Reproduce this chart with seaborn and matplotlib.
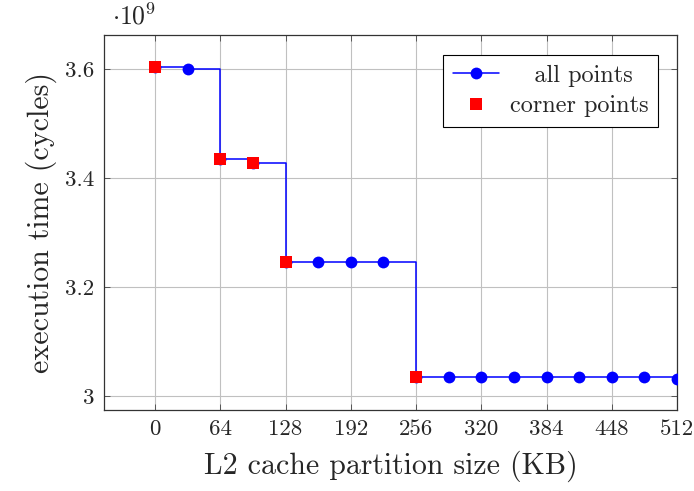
import matplotlib
matplotlib.use("Agg")
import matplotlib.pyplot as plt
from matplotlib.lines import Line2D
import seaborn as sns
import pandas as pd

# Data (execution time in cycles)
partition_kb = [0, 32, 64, 96, 128, 160, 192, 224, 256, 288, 320, 352, 384, 416, 448, 480, 512]
exec_cycles = [3.604e9, 3.601e9, 3.435e9, 3.427e9, 3.246e9, 3.246e9, 3.246e9, 3.246e9,
               3.034e9, 3.034e9, 3.034e9, 3.034e9, 3.034e9, 3.034e9, 3.034e9, 3.034e9, 3.031e9]
corner_kb = [0, 64, 96, 128, 256]
corner_cycles = [3.604e9, 3.435e9, 3.427e9, 3.246e9, 3.034e9]
x_ticks = [0, 64, 128, 192, 256, 320, 384, 448, 512]
y_ticks = [3.0, 3.2, 3.4, 3.6]
scale = 1e9

sns.set_theme(style="whitegrid")
plt.rcParams['font.family'] = ['serif']
plt.rcParams['font.serif'] = ['cmr10', 'DejaVu Serif']
plt.rcParams['mathtext.fontset'] = 'cm'
plt.rcParams['axes.formatter.use_mathtext'] = True

df_all = pd.DataFrame({"x": partition_kb, "y": [v / scale for v in exec_cycles]})
df_corner = pd.DataFrame({"x": corner_kb, "y": [v / scale for v in corner_cycles]})

fig = plt.figure(figsize=(6.94, 4.91), dpi=100)
ax = fig.add_axes([0.150, 0.165, 0.8255, 0.7637])

sns.lineplot(data=df_all, x="x", y="y", ax=ax, color="blue", linewidth=1.1,
             drawstyle="steps-post", marker="o", markersize=8.5,
             markeredgewidth=0, zorder=3)
sns.lineplot(data=df_corner, x="x", y="y", ax=ax, color="red", linestyle="",
             marker="s", markersize=9, markeredgewidth=0, zorder=4)

ax.set_xlim(-50, 512)
ax.set_ylim(2.974, 3.6625)
ax.set_xticks(x_ticks)
ax.set_xticklabels([str(t) for t in x_ticks])
ax.set_yticks(y_ticks)
ax.set_yticklabels(["3", "3.2", "3.4", "3.6"])

ax.set_facecolor("white")
ax.grid(True, color="#c0c0c0", linewidth=0.8)
for s in ax.spines.values():
    s.set_color("#333333")
    s.set_linewidth(0.9)
    s.set_visible(True)

ax.tick_params(axis="both", which="both", direction="in", length=4, width=0.7,
               color="#555555", labelsize=16.5, top=True, right=True,
               bottom=True, left=True, pad=7)

ax.set_xlabel("L2 cache partition size (KB)", fontsize=21.5, labelpad=8)
ax.set_ylabel("execution time (cycles)", fontsize=21.5, labelpad=6)

fig.text(112 / 694, 1 - 16 / 491, r"$\cdot 10^{9}$", fontsize=18.5, va="center", ha="left")

handles = [
    Line2D([0], [0], color="blue", linewidth=1.1, marker="o", markersize=8.5, markeredgewidth=0),
    Line2D([0], [0], color="red", linestyle="", marker="s", markersize=9, markeredgewidth=0),
]
leg = ax.legend(handles, ["   all points", "corner points"], loc="upper right",
                bbox_to_anchor=(0.967, 0.947), borderaxespad=0, fontsize=17.5,
                frameon=True, fancybox=False, edgecolor="black", framealpha=1,
                borderpad=0.4, handlelength=1.9, labelspacing=0.35, handletextpad=0.45)
leg.get_frame().set_linewidth(0.8)

fig.savefig("out.png", dpi=100)
